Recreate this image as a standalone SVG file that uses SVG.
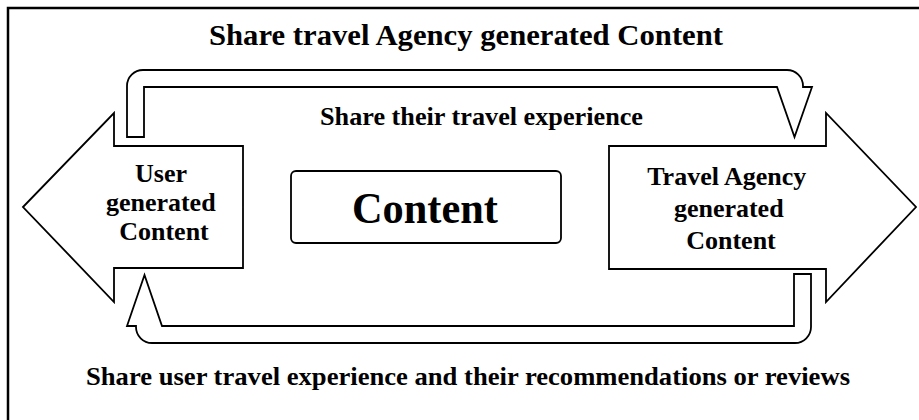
<svg xmlns="http://www.w3.org/2000/svg" width="919" height="420" viewBox="0 0 919 420">
  <style>
    .shape { fill: #ffffff; stroke: #000000; stroke-width: 1.8; stroke-linejoin: miter; }
    .frame { fill: none; stroke: #000000; stroke-width: 2.5; }
    .txt { font-family: "Liberation Serif", "Times New Roman", serif; font-weight: bold; fill: #000000; text-anchor: middle; }
  </style>

  <rect width="919" height="420" fill="#ffffff"/>
  <!-- outer frame, open to the right and bottom -->
  <rect class="frame" x="8" y="8" width="1000" height="1000"/>

  <g id="node-user-content">
    <polygon class="shape" points="23,207 114,113 114,146 243,146 243,268 114,268 114,302"/>
    <text class="txt" font-size="26">
      <tspan x="164" y="182">User</tspan>
      <tspan x="164" y="211">generated</tspan>
      <tspan x="164" y="240">Content</tspan>
    </text>
  </g>

  <g id="node-agency-content">
    <polygon class="shape" points="609,146 826,146 826,113 916,207 826,302 826,269 609,269"/>
    <text class="txt" font-size="26">
      <tspan x="730" y="185">Travel  Agency</tspan>
      <tspan x="732" y="217">generated</tspan>
      <tspan x="731" y="249">Content</tspan>
    </text>
  </g>

  <g id="node-content">
    <rect class="shape" x="291" y="171" width="270" height="72" rx="5"/>
    <text class="txt" x="425" y="223" font-size="44" textLength="146" lengthAdjust="spacingAndGlyphs">Content</text>
  </g>

  <g id="connectors">
    <!-- upper bent arrow: user content to agency content -->
    <path class="shape" d="M127,137 V86 A16,16 0 0 1 143,70 H787 A16,16 0 0 1 803,86 V87 H812 L794.5,137 L777,87 H144 V137 Z"/>
    <!-- lower bent arrow: agency content back to user content -->
    <path class="shape" d="M794,274 H811 V327 A16,16 0 0 1 795,343 H152 A16,16 0 0 1 136,327 V326 H127 L144.5,275 L162,326 H794 Z"/>
  </g>

  <g id="labels">
    <text class="txt" x="466" y="45" font-size="29.5" textLength="514" lengthAdjust="spacingAndGlyphs">Share travel Agency generated Content</text>
    <text class="txt" x="481.5" y="125" font-size="24.5" textLength="323" lengthAdjust="spacingAndGlyphs">Share their travel  experience</text>
    <text class="txt" x="468" y="385" font-size="25" textLength="764" lengthAdjust="spacingAndGlyphs">Share user travel  experience  and  their  recommendations  or reviews</text>
  </g>
</svg>
